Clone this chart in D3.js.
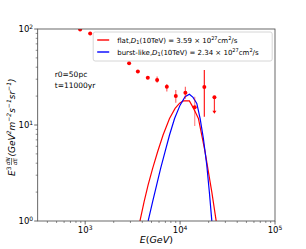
<!DOCTYPE html>
<html>
<head>
<meta charset="utf-8">
<script src="https://cdn.jsdelivr.net/npm/d3@7"></script>
<style>
  body { margin: 0; background: #fff; }
  text { font-family: "DejaVu Sans", sans-serif; }
</style>
</head>
<body>
<div id="chart"></div>
<script>
// measured points (E in GeV, flux), error bars as [low, high]
var pointE = [885, 1129, 2904, 3590, 4570, 5730, 7250, 9010, 11370, 14260, 18010];
var pointY = [99, 90, 44, 36, 31, 29.5, 25, 20, 21.7, 15.3, 24.9];
var errLow = [null, null, null, null, null, 27.5, 22.4, 17.1, 18.8, 9.75, 12.2];
var errHigh = [null, null, null, null, null, 32, 26.7, 23.2, 25.1, 19.7, 37.4];
var errAlpha = [1, 1, 1, 1, 1, 0.6, 0.6, 0.6, 0.6, 0.45, 0.9];

// upper limit point
var limitE = 23000, limitY = 19.4, limitTo = 13.4;

// model curves
var flatE = [3600, 3795, 4180, 4600, 5140, 5800, 6620, 7740, 8860, 9890, 10830, 12530, 13280, 14390, 15600, 16900, 18320, 19860, 21560, 23930, 25000];
var flatY = [0.7, 1.02, 1.59, 2.37, 3.54, 5.27, 7.87, 11.7, 14.9, 16.9, 17.8, 17.8, 16.1, 13.8, 11.7, 7.87, 5.27, 3.27, 2.02, 1.02, 0.7];
var burstE = [4400, 4630, 5140, 5660, 6240, 6950, 7740, 8750, 10000, 11290, 12530, 13700, 15000, 16250, 17590, 19100, 20330, 21560, 22200];
var burstY = [0.7, 1.02, 1.59, 2.37, 3.54, 5.27, 7.87, 11.7, 16.1, 19.7, 20.9, 19.4, 16.8, 11.7, 7.26, 3.83, 2.02, 1.02, 0.7];

var xTicks = [3, 4, 5];
var yTicks = [0, 1, 2];

var W = 306, H = 249;
var margin = { top: 29, right: 31, bottom: 28, left: 37.7 };
var iw = W - margin.left - margin.right,
  ih = H - margin.top - margin.bottom;

var svg = d3.select("#chart").append("svg")
  .attr("width", W).attr("height", H);

var x = d3.scaleLog().domain([Math.pow(10, 2.5), 1e5]).range([0, iw]);
var y = d3.scaleLog().domain([1, 100]).range([ih, 0]);

var g = svg.append("g")
  .attr("transform", "translate(" + margin.left + "," + margin.top + ")");

svg.append("defs").append("clipPath").attr("id", "clip")
  .append("rect").attr("width", iw).attr("height", ih);

var axisColor = "#444";

// minor ticks
var xMinor = [], yMinor = [];
for (var k = 2; k < 5; k++) for (var m = 2; m < 10; m++) {
  var v = m * Math.pow(10, k);
  if (v > Math.pow(10, 2.5) && v < 1e5) xMinor.push(v);
}
for (var k2 = 0; k2 < 2; k2++) for (var m2 = 2; m2 < 10; m2++) yMinor.push(m2 * Math.pow(10, k2));

g.selectAll(".xminor").data(xMinor).join("line")
  .attr("x1", d => x(d)).attr("x2", d => x(d))
  .attr("y1", ih).attr("y2", ih + 2)
  .attr("stroke", axisColor).attr("stroke-width", 0.6);
g.selectAll(".yminor").data(yMinor).join("line")
  .attr("y1", d => y(d)).attr("y2", d => y(d))
  .attr("x1", 0).attr("x2", -2)
  .attr("stroke", axisColor).attr("stroke-width", 0.6);

// major ticks + labels
g.selectAll(".xmajor").data(xTicks).join("line")
  .attr("x1", d => x(Math.pow(10, d))).attr("x2", d => x(Math.pow(10, d)))
  .attr("y1", ih).attr("y2", ih + 3.5)
  .attr("stroke", axisColor).attr("stroke-width", 0.8);
var xl = g.selectAll(".xlab").data(xTicks).join("text")
  .attr("x", d => x(Math.pow(10, d)))
  .attr("y", ih + 12)
  .attr("text-anchor", "middle")
  .attr("font-size", 8.5);
xl.append("tspan").text("10");
xl.append("tspan").attr("dy", -3.5).attr("font-size", 6).text(d => d);

g.selectAll(".ymajor").data(yTicks).join("line")
  .attr("y1", d => y(Math.pow(10, d))).attr("y2", d => y(Math.pow(10, d)))
  .attr("x1", 0).attr("x2", -3.5)
  .attr("stroke", axisColor).attr("stroke-width", 0.8);
var yl = g.selectAll(".ylab").data(yTicks).join("text")
  .attr("x", -4.5)
  .attr("y", d => y(Math.pow(10, d)) + 3)
  .attr("text-anchor", "end")
  .attr("font-size", 8.5);
yl.append("tspan").text("10");
yl.append("tspan").attr("dy", -3.5).attr("font-size", 6).text(d => d);

// curves
var plot = g.append("g").attr("clip-path", "url(#clip)");
var line = d3.line().x(d => x(d[0])).y(d => y(d[1]));

plot.append("path")
  .datum(d3.zip(flatE, flatY))
  .attr("d", line).attr("fill", "none")
  .attr("stroke", "red").attr("stroke-width", 1.2);
plot.append("path")
  .datum(d3.zip(burstE, burstY))
  .attr("d", line).attr("fill", "none")
  .attr("stroke", "blue").attr("stroke-width", 1.2);

// error bars
var pts = pointE.map((e, i) => ({ e: e, v: pointY[i], lo: errLow[i], hi: errHigh[i], a: errAlpha[i] }));
plot.selectAll(".err").data(pts.filter(d => d.lo !== null)).join("line")
  .attr("x1", d => x(d.e)).attr("x2", d => x(d.e))
  .attr("y1", d => y(d.lo)).attr("y2", d => y(d.hi))
  .attr("stroke", "red").attr("stroke-opacity", d => d.a)
  .attr("stroke-width", 1.2);
plot.selectAll(".pt").data(pts).join("circle")
  .attr("cx", d => x(d.e)).attr("cy", d => y(d.v))
  .attr("r", 2).attr("fill", "red");

// upper limit
plot.append("line")
  .attr("x1", x(limitE)).attr("x2", x(limitE))
  .attr("y1", y(limitY)).attr("y2", y(limitTo))
  .attr("stroke", "red").attr("stroke-opacity", 0.8).attr("stroke-width", 1.2);
plot.append("circle")
  .attr("cx", x(limitE)).attr("cy", y(limitY)).attr("r", 2).attr("fill", "red");
plot.append("path")
  .attr("d", "M" + (x(limitE) - 2) + "," + (y(limitTo) - 2) + "L" + (x(limitE) + 2) + "," + (y(limitTo) - 2) + "L" + x(limitE) + "," + (y(limitTo) + 1) + "Z")
  .attr("fill", "red");

// frame
g.append("rect").attr("width", iw).attr("height", ih)
  .attr("fill", "none").attr("stroke", axisColor).attr("stroke-width", 0.8);

// legend
var leg = g.append("g").attr("transform", "translate(55.5,3)");
leg.append("rect").attr("width", 179).attr("height", 29).attr("rx", 2)
  .attr("fill", "white").attr("fill-opacity", 0.8)
  .attr("stroke", "#ccc").attr("stroke-width", 0.8);
var legItems = [
  { c: "red", name: "flat", val: "3.59" },
  { c: "blue", name: "burst-like", val: "2.34" }
];
legItems.forEach(function (it, i) {
  var ly = 8 + i * 12;
  leg.append("line").attr("x1", 4).attr("x2", 16).attr("y1", ly).attr("y2", ly)
    .attr("stroke", it.c).attr("stroke-width", 1.4);
  var t = leg.append("text").attr("x", 24).attr("y", ly + 2.5).attr("font-size", 7);
  t.append("tspan").text(it.name + ",");
  t.append("tspan").attr("font-style", "italic").text("D");
  t.append("tspan").attr("font-size", 5).attr("dy", 1.5).text("1");
  t.append("tspan").attr("dy", -1.5).text("(10TeV) = " + it.val + " × 10");
  t.append("tspan").attr("font-size", 5).attr("dy", -3).text("27");
  t.append("tspan").attr("dy", 3).text("cm");
  t.append("tspan").attr("font-size", 5).attr("dy", -3).text("2");
  t.append("tspan").attr("dy", 3).text("/s");
});

// annotation
g.append("text").attr("x", 17).attr("y", 48).attr("font-size", 7.5).text("r0=50pc");
g.append("text").attr("x", 17).attr("y", 59).attr("font-size", 7.5).text("t=11000yr");

// x label
var xt = svg.append("text")
  .attr("x", margin.left + iw / 2).attr("y", 243)
  .attr("text-anchor", "middle").attr("font-size", 9.5);
xt.append("tspan").attr("font-style", "italic").text("E");
xt.append("tspan").text("(");
xt.append("tspan").attr("font-style", "italic").text("GeV");
xt.append("tspan").text(")");

// y label
var yg = svg.append("g").attr("transform", "translate(15," + (margin.top + ih / 2) + ") rotate(-90)");
var yt = yg.append("text").attr("x", -51).attr("y", 0).attr("font-size", 9);
yt.append("tspan").attr("font-style", "italic").text("E");
yt.append("tspan").attr("font-size", 6).attr("dy", -4).text("3");
yg.append("text").attr("x", -40).attr("y", -5.5).attr("font-size", 5.5).attr("font-style", "italic").text("dN");
yg.append("line").attr("x1", -40).attr("x2", -33).attr("y1", -3.5).attr("y2", -3.5)
  .attr("stroke", "#000").attr("stroke-width", 0.5);
yg.append("text").attr("x", -40).attr("y", 1.5).attr("font-size", 5.5).attr("font-style", "italic").text("dE");
var yt2 = yg.append("text").attr("x", -31.5).attr("y", 0).attr("font-size", 9).attr("font-style", "italic");
yt2.append("tspan").text("(GeV");
yt2.append("tspan").attr("font-size", 6).attr("dy", -4).text("2");
yt2.append("tspan").attr("dy", 4).text("m");
yt2.append("tspan").attr("font-size", 6).attr("dy", -4).text("−2");
yt2.append("tspan").attr("dy", 4).text("s");
yt2.append("tspan").attr("font-size", 6).attr("dy", -4).text("−1");
yt2.append("tspan").attr("dy", 4).text("sr");
yt2.append("tspan").attr("font-size", 6).attr("dy", -4).text("−1");
yt2.append("tspan").attr("dy", 4).text(")");
</script>
</body>
</html>
